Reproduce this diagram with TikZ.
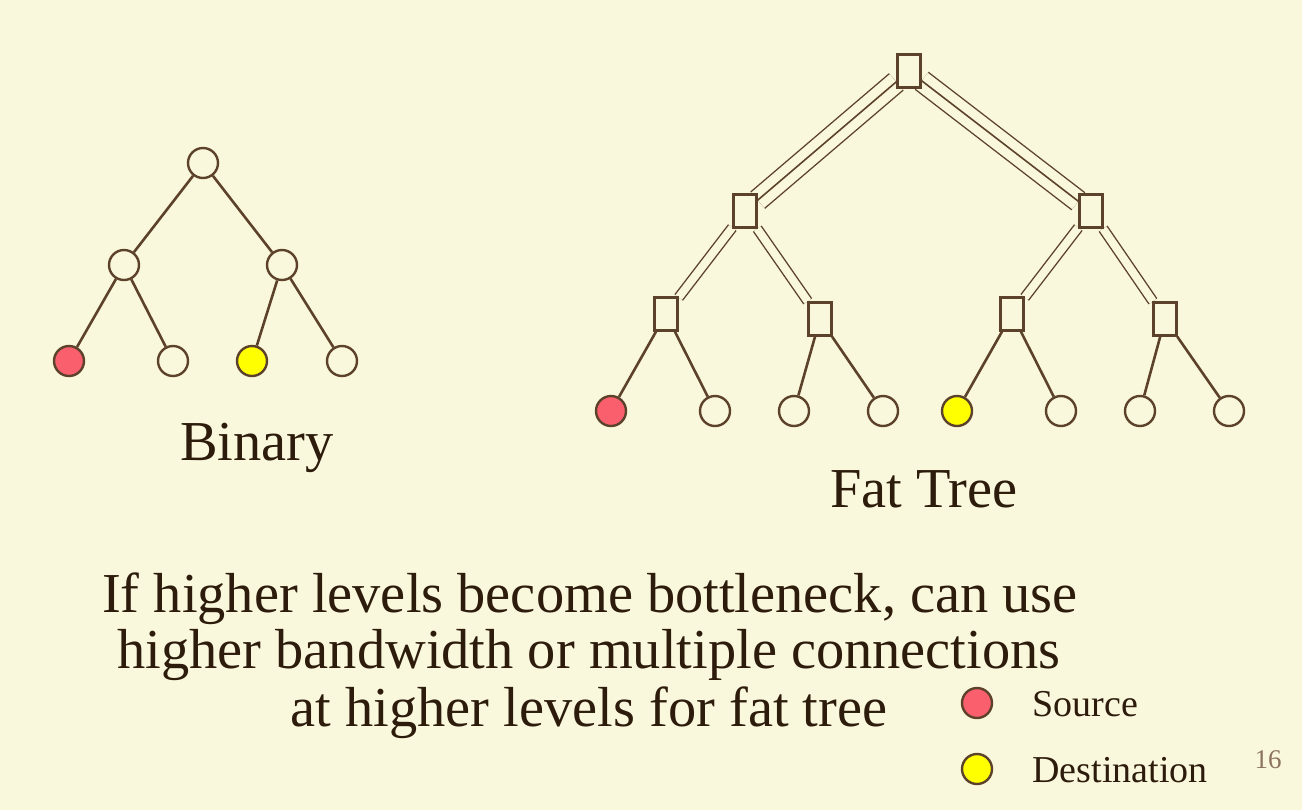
\documentclass[tikz,border=0pt]{standalone}
\usepackage{fontspec}
\setmainfont{Liberation Serif}
\definecolor{bgc}{RGB}{250,248,220}
\definecolor{edgec}{RGB}{92,66,42}
\definecolor{textc}{RGB}{45,28,12}
\definecolor{srcred}{RGB}{250,95,110}
\definecolor{dstyel}{RGB}{255,255,0}
\definecolor{numc}{RGB}{140,115,95}
\pgfdeclarelayer{back}
\pgfdeclarelayer{mid}
\pgfsetlayers{back,mid,main}
\tikzset{
  lnode/.style={circle, draw=edgec, line width=1.2pt, fill=bgc, minimum size=15pt, inner sep=0pt},
  srcnode/.style={lnode, fill=srcred},
  dstnode/.style={lnode, fill=dstyel},
  swnode/.style={rectangle, draw=edgec, line width=1.2pt, fill=bgc, minimum width=11.5pt, minimum height=16.5pt, inner sep=0pt},
  link/.style={draw=edgec, line width=1.3pt},
  fattwo/.style={draw=edgec, line width=0.7pt, double=bgc, double distance=4pt},
  fatouter/.style={draw=edgec, line width=0.7pt, double=bgc, double distance=10pt},
  fatcenter/.style={draw=edgec, line width=0.8pt},
  bigtext/.style={text=textc, font=\fontsize{28.2}{34}\selectfont, inner sep=0pt, anchor=base},
  legtext/.style={text=textc, font=\fontsize{19}{23}\selectfont, inner sep=0pt, anchor=base west},
  numtext/.style={text=numc, font=\fontsize{13.5}{16}\selectfont, inner sep=0pt, anchor=base},
}
\begin{document}
\begin{tikzpicture}[x=0.5pt,y=-0.5pt]
\begin{pgfonlayer}{back}
\fill[bgc] (0,0) rectangle (1302,810);
\end{pgfonlayer}
\useasboundingbox (0,0) rectangle (1302,810);

% Binary tree
\node[lnode] (b0) at (203,163) {};
\node[lnode] (b1) at (124,265) {};
\node[lnode] (b2) at (282,265) {};
\node[srcnode] (b3) at (69,361) {};
\node[lnode] (b4) at (173,361) {};
\node[dstnode] (b5) at (252,361) {};
\node[lnode] (b6) at (342,361) {};
\path[link] (b0) -- (b1) (b0) -- (b2)
  (b1) -- (b3) (b1) -- (b4) (b2) -- (b5) (b2) -- (b6);

% Fat tree
\node[swnode] (f0) at (909,71) {};
\node[swnode] (f1) at (745,211) {};
\node[swnode] (f2) at (1091,211) {};
\node[swnode] (f3) at (666,314) {};
\node[swnode] (f4) at (820,319) {};
\node[swnode] (f5) at (1012,314) {};
\node[swnode] (f6) at (1165,319) {};
\node[srcnode] (l1) at (611,411) {};
\node[lnode] (l2) at (715,411) {};
\node[lnode] (l3) at (794,411) {};
\node[lnode] (l4) at (883,411) {};
\node[dstnode] (l5) at (957,411) {};
\node[lnode] (l6) at (1061,411) {};
\node[lnode] (l7) at (1140,411) {};
\node[lnode] (l8) at (1229,411) {};

\begin{pgfonlayer}{mid}
\path[fatouter] (f0) -- (f1) (f0) -- (f2);
\path[fatcenter] (f0) -- (f1) (f0) -- (f2);
\path[fattwo] (f1) -- (f3) (f1) -- (f4) (f2) -- (f5) (f2) -- (f6);
\end{pgfonlayer}
\path[link] (f3) -- (l1) (f3) -- (l2) (f4) -- (l3) (f4) -- (l4)
  (f5) -- (l5) (f5) -- (l6) (f6) -- (l7) (f6) -- (l8);

% Labels
\node[bigtext] (tbin) at (257,460) {Binary};
\node[bigtext] (tfat) at (924,507) {Fat Tree};
\node[bigtext] (t1) at (590,612) {If higher levels become bottleneck, can use};
\node[bigtext] (t2) at (589,668) {higher bandwidth or multiple connections};
\node[bigtext] (t3) at (589,726) {at higher levels for fat tree};

% Legend
\node[srcnode] (ks) at (977,703) {};
\node[dstnode] (kd) at (977,769) {};
\node[legtext] (ls) at (1032,716) {Source};
\node[legtext] (ld) at (1032,782) {Destination};
\node[numtext] (pg) at (1268,768) {16};
\end{tikzpicture}
\end{document}
